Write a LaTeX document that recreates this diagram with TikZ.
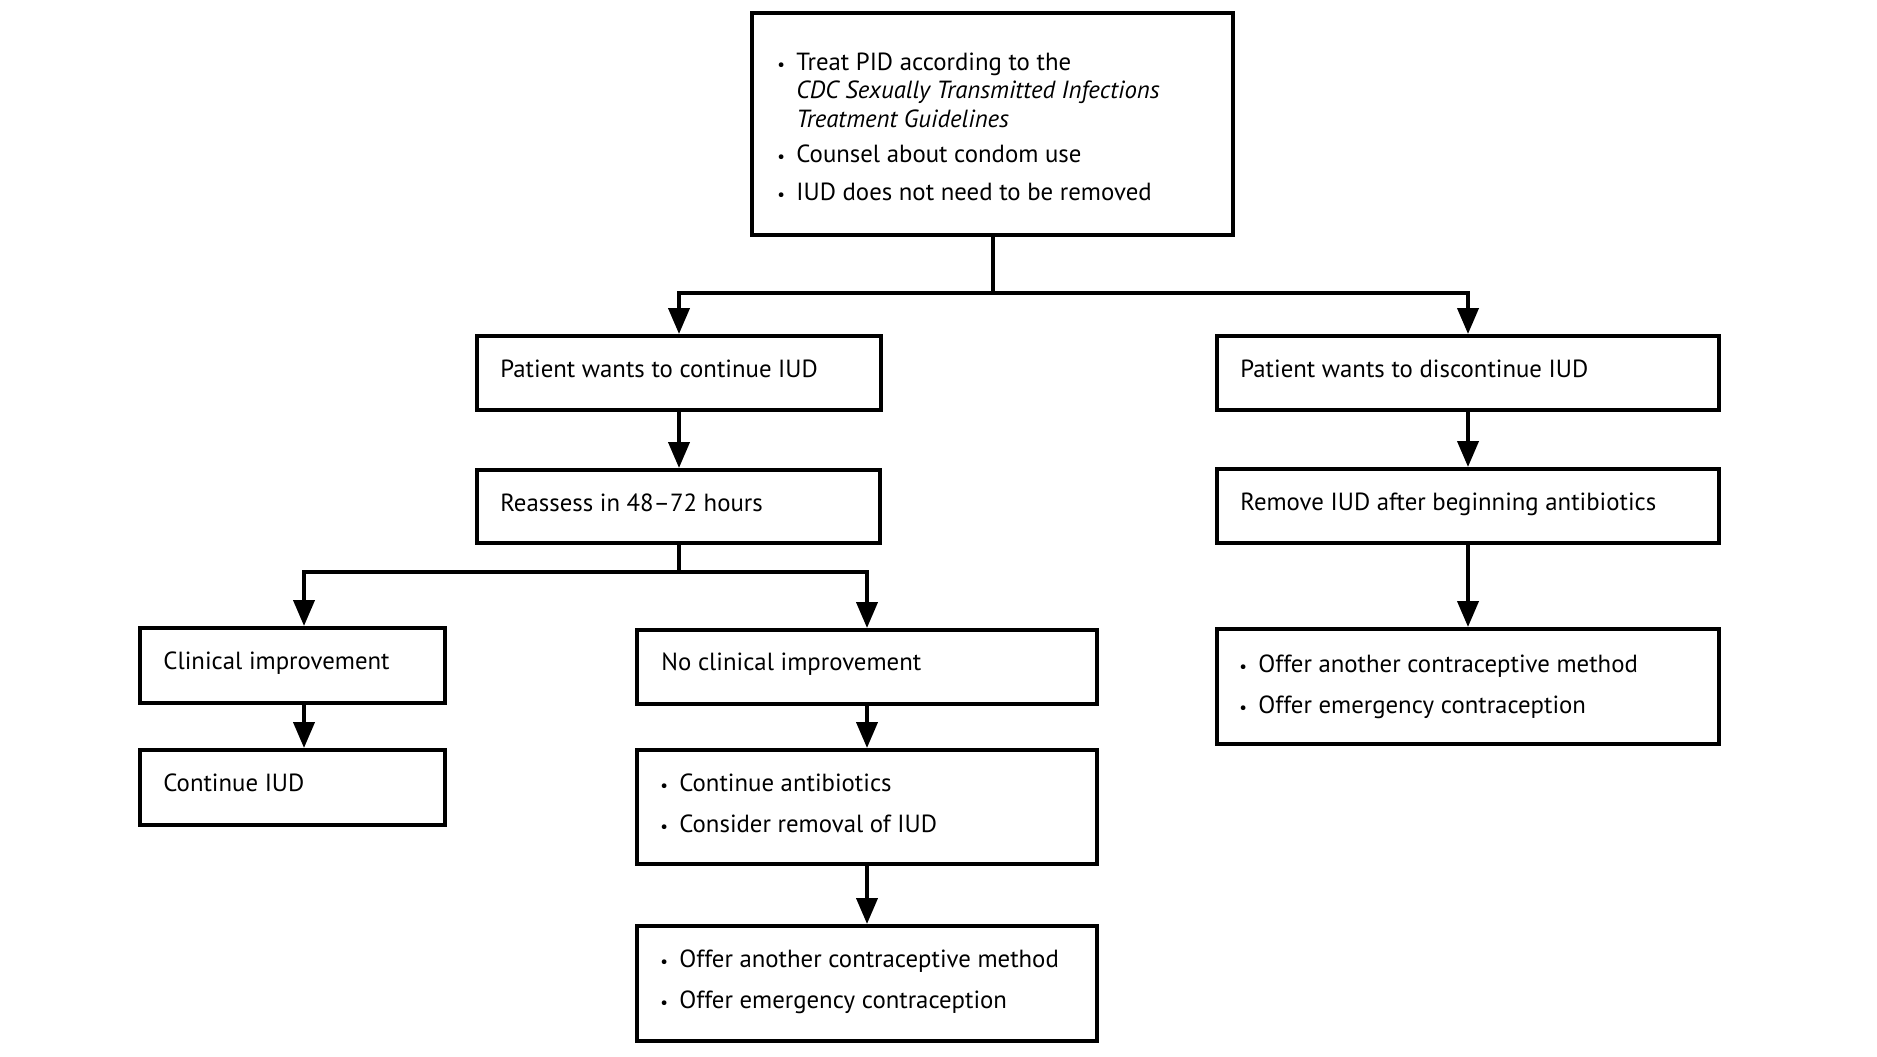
\documentclass[tikz,border=0pt]{standalone}
\usepackage{fontspec}
\setmainfont{PT Sans}
\usetikzlibrary{arrows.meta,calc}
\tikzset{
  box/.style={draw, line width=2pt, rectangle, inner sep=0pt},
  txt/.style={anchor=base west, inner sep=0pt, font=\fontsize{12.4}{14}\selectfont},
  arr/.style={line width=2pt, -{Triangle[width=10.5pt,length=13pt]}},
  ln/.style={line width=2pt},
}
\newcommand\mkbox[5]{\node[box, minimum width={(#4-#2)*0.5pt}, minimum height={(#5-#3)*0.5pt}] (#1) at ({(#2+#4)/2},{(#3+#5)/2}) {};}
\newcommand\bul{\makebox[9.5pt][l]{\fontsize{8.5}{8.5}\selectfont\textbullet}}
\begin{document}
\begin{tikzpicture}[x=0.5pt,y=-0.5pt]
\useasboundingbox (0,0) rectangle (1877,1056);
% boxes
\mkbox{b1}{752}{13}{1233}{235}
\mkbox{b2}{477}{336}{881}{410}
\mkbox{b3}{1217}{336}{1719}{410}
\mkbox{b4}{477}{470}{880}{543}
\mkbox{b5}{1217}{469}{1719}{543}
\mkbox{b6}{140}{628}{445}{703}
\mkbox{b7}{637}{630}{1097}{704}
\mkbox{b8}{1217}{629}{1719}{744}
\mkbox{b9}{140}{750}{445}{825}
\mkbox{b10}{637}{750}{1097}{864}
\mkbox{b11}{637}{926}{1097}{1041}
% texts
\node[txt] (t1a) at (777,70) {\bul Treat PID according to the};
\node[txt] (t1b) at (796,98) {\itshape CDC Sexually Transmitted Infections};
\node[txt] (t1c) at (796,127) {\itshape Treatment Guidelines};
\node[txt] (t1d) at (777,162) {\bul Counsel about condom use};
\node[txt] (t1e) at (777,200) {\bul IUD does not need to be removed};
\node[txt] (t2) at (500,377) {Patient wants to continue IUD};
\node[txt] (t3) at (1240,377) {Patient wants to discontinue IUD};
\node[txt] (t4) at (500,511) {Reassess in 48--72 hours};
\node[txt] (t5) at (1240,510) {Remove IUD after beginning antibiotics};
\node[txt] (t6) at (163,669) {Clinical improvement};
\node[txt] (t7) at (661,670) {No clinical improvement};
\node[txt] (t8a) at (1239,672) {\bul Offer another contraceptive method};
\node[txt] (t8b) at (1239,713) {\bul Offer emergency contraception};
\node[txt] (t9) at (163,791) {Continue IUD};
\node[txt] (t10a) at (660,791) {\bul Continue antibiotics};
\node[txt] (t10b) at (660,832) {\bul Consider removal of IUD};
\node[txt] (t11a) at (660,967) {\bul Offer another contraceptive method};
\node[txt] (t11b) at (660,1008) {\bul Offer emergency contraception};
% connectors
\coordinate (j1) at ($(b1.south)+(0,56)$);
\draw[ln] (b1.south) -- (j1);
\draw[arr] (j1) -| (b2.north);
\draw[arr] (j1) -| (b3.north);
\draw[arr] (b2.south) -- (b2.south |- b4.north);
\draw[arr] (b3.south) -- (b3.south |- b5.north);
\draw[arr] (b5.south) -- (b5.south |- b8.north);
\coordinate (j2) at ($(b4.south)+(0,27)$);
\coordinate (c6) at ($(b6.north west)+(166,0)$);
\coordinate (c6s) at ($(b6.south west)+(166,0)$);
\coordinate (c9) at ($(b9.north west)+(166,0)$);
\draw[ln] (b4.south) -- (j2);
\draw[arr] (j2) -| (c6);
\draw[arr] (j2) -| (b7.north);
\draw[arr] (c6s) -- (c9);
\draw[arr] (b7.south) -- (b10.north);
\draw[arr] (b10.south) -- (b11.north);
\end{tikzpicture}
\end{document}
